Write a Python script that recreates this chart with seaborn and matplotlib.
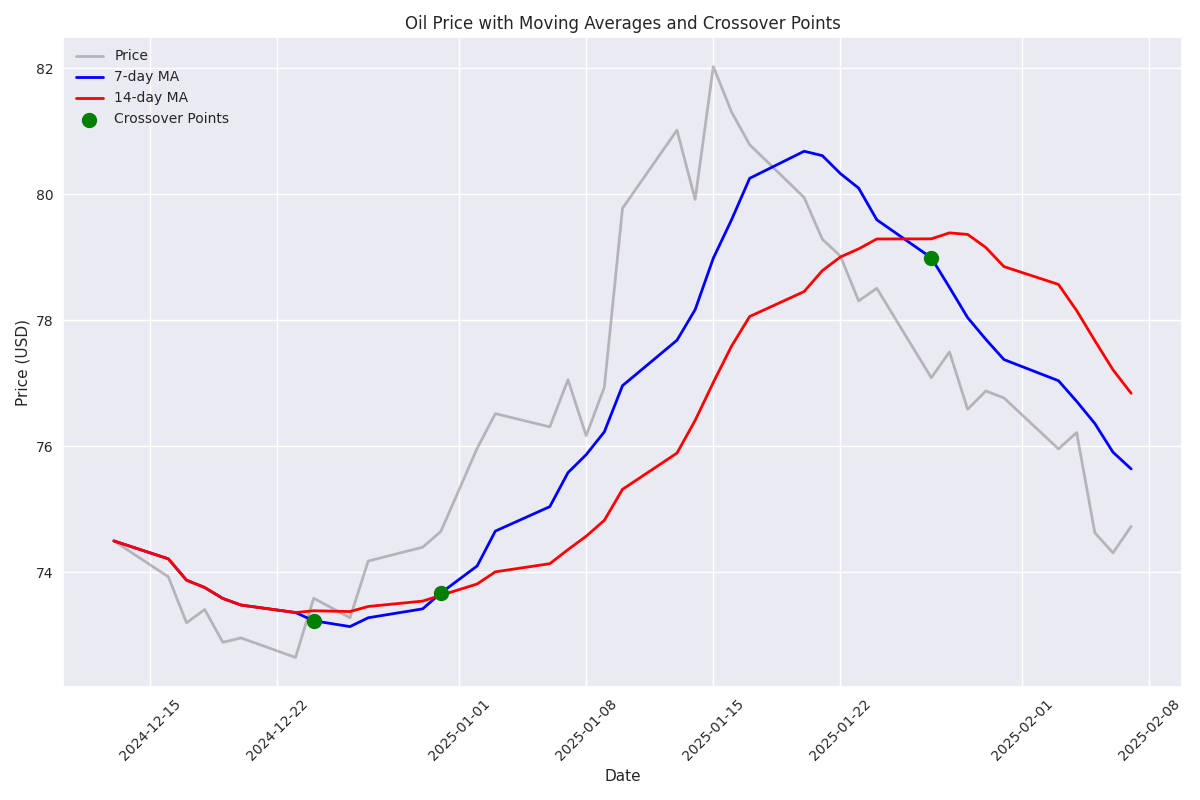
import numpy as np
import pandas as pd
import matplotlib
matplotlib.use("Agg")
import matplotlib.pyplot as plt
import seaborn as sns

dates = [
    "2024-12-13", "2024-12-16", "2024-12-17", "2024-12-18", "2024-12-19", "2024-12-20",
    "2024-12-23", "2024-12-24", "2024-12-26", "2024-12-27", "2024-12-30", "2024-12-31",
    "2025-01-02", "2025-01-03", "2025-01-06", "2025-01-07", "2025-01-08", "2025-01-09",
    "2025-01-10", "2025-01-13", "2025-01-14", "2025-01-15", "2025-01-16", "2025-01-17",
    "2025-01-20", "2025-01-21", "2025-01-22", "2025-01-23", "2025-01-24", "2025-01-27",
    "2025-01-28", "2025-01-29", "2025-01-30", "2025-01-31", "2025-02-03", "2025-02-04",
    "2025-02-05", "2025-02-06", "2025-02-07",
]
prices = [
    74.50, 73.93, 73.20, 73.41, 72.89, 72.96,
    72.65, 73.59, 73.28, 74.18, 74.40, 74.65,
    75.97, 76.52, 76.31, 77.06, 76.17, 76.94,
    79.78, 81.02, 79.92, 82.03, 81.31, 80.79,
    79.95, 79.29, 79.02, 78.31, 78.51, 77.09,
    77.50, 76.59, 76.88, 76.77, 75.96, 76.22,
    74.63, 74.31, 74.73,
]
crossover_dates = ["2024-12-24", "2024-12-31", "2025-01-27"]

df = pd.DataFrame({"Date": pd.to_datetime(dates), "Price": prices})
df["MA7"] = df["Price"].rolling(window=7, min_periods=1).mean()
df["MA14"] = df["Price"].rolling(window=14, min_periods=1).mean()
cross = df[df["Date"].isin(pd.to_datetime(crossover_dates))]

sns.set_theme(style="darkgrid", rc={
    "font.size": 10,
    "axes.labelsize": 11,
    "axes.titlesize": 12,
    "xtick.labelsize": 10,
    "ytick.labelsize": 10,
    "legend.fontsize": 10,
    "xtick.major.size": 0,
    "ytick.major.size": 0,
    "xtick.major.pad": 7,
    "ytick.major.pad": 7,
})
plt.rcParams["font.family"] = ["DejaVu Sans"]

fig, ax = plt.subplots(figsize=(12, 8), dpi=100)
sns.lineplot(data=df, x="Date", y="Price", ax=ax, color="gray", alpha=0.5, linewidth=2, label="Price")
sns.lineplot(data=df, x="Date", y="MA7", ax=ax, color="blue", linewidth=2, label="7-day MA")
sns.lineplot(data=df, x="Date", y="MA14", ax=ax, color="red", linewidth=2, label="14-day MA")
sns.scatterplot(data=cross, x="Date", y="MA7", ax=ax, color="green", s=100,
                edgecolor="green", linewidth=1, label="Crossover Points", zorder=5)

ax.set_title("Oil Price with Moving Averages and Crossover Points")
ax.set_xlabel("Date")
ax.set_ylabel("Price (USD)")
ax.legend(loc="upper left", frameon=False)
plt.setp(ax.get_xticklabels(), rotation=45)
fig.subplots_adjust(left=0.0525, right=0.985, top=0.95375, bottom=0.14125)
fig.savefig("out.png", dpi=100)
